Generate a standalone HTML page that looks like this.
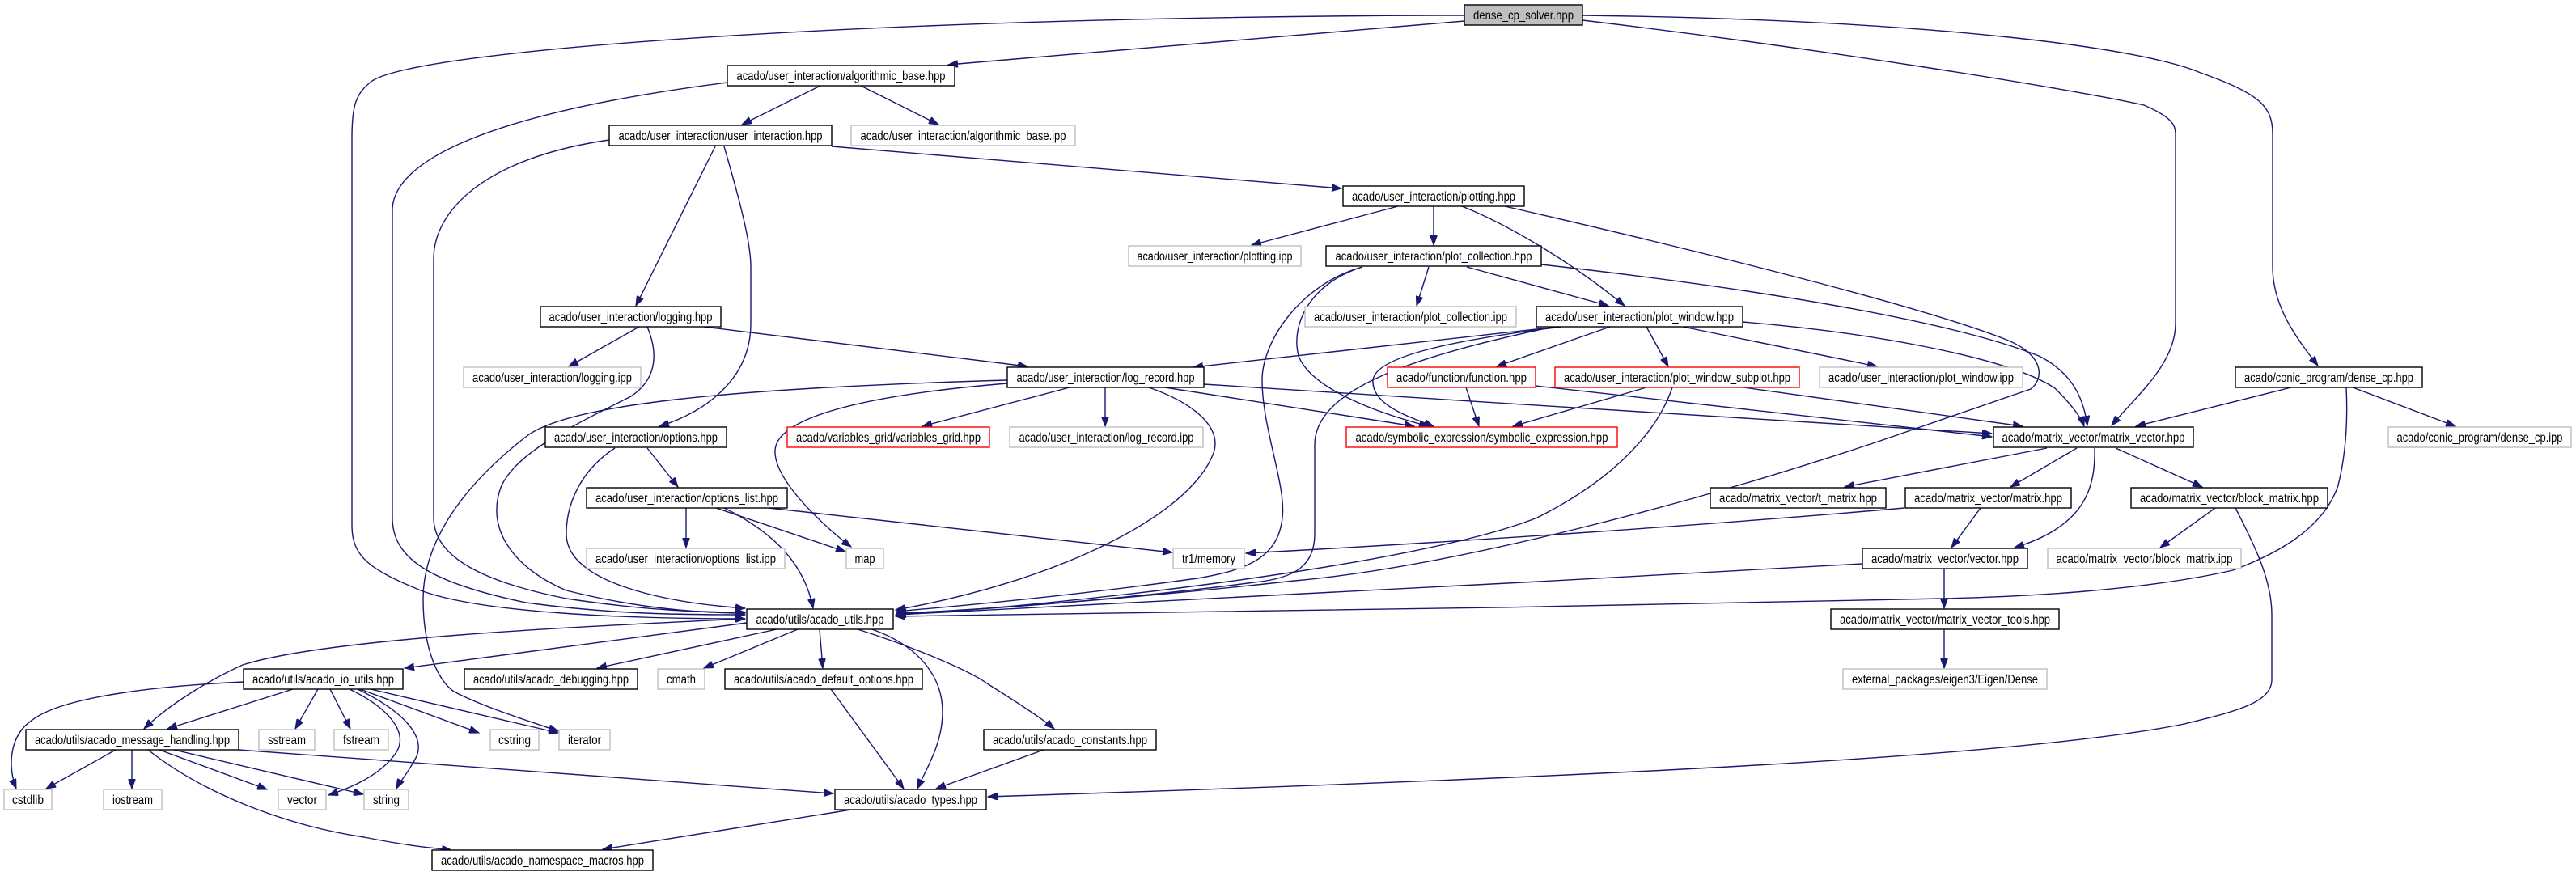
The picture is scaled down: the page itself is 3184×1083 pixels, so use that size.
<!DOCTYPE html>
<html><head><meta charset="utf-8"><style>
html,body{margin:0;padding:0;background:#fff;}
svg{display:block;}
text{font-family:"Liberation Sans",sans-serif;font-size:15.5px;fill:#000;}
.e{fill:none;stroke:#191970;stroke-width:1.4;marker-end:url(#a);}
.n{fill:#fff;stroke:#000;stroke-width:1.4;}
.g{fill:#fff;stroke:#bfbfbf;stroke-width:1.4;}
.r{fill:#fff;stroke:#ff0000;stroke-width:1.4;}
</style></head><body>
<svg width="3184" height="1083" viewBox="0 0 3184 1083" xmlns="http://www.w3.org/2000/svg">
<defs><marker id="a" markerUnits="userSpaceOnUse" markerWidth="13" markerHeight="9" refX="12" refY="4.5" orient="auto"><path d="M0,0 L12,4.5 L0,9 z" fill="#191970" stroke="#191970"/></marker></defs>
<path class="e" d="M1810,26 L1172,80"/>
<path class="e" d="M1810,19 C1100,20 520,60 460,100 C440,115 435,130 435,170 L435,650 C435,690 460,705 520,730 C600,760 800,765 921,765"/>
<path class="e" d="M1956,19 C2400,25 2650,60 2720,90 C2790,115 2809,130 2809,165 L2809,330 C2809,380 2840,420 2865,452"/>
<path class="e" d="M1956,25 C2250,60 2560,110 2650,130 C2685,145 2689,155 2689,165 L2689,400 C2689,450 2640,490 2610,526"/>
<path class="e" d="M1014,106 L917,154"/>
<path class="e" d="M1064,106 L1160,154"/>
<path class="e" d="M899,102 C600,140 485,200 485,260 L485,640 C485,690 530,720 650,745 C760,760 850,760 921,760"/>
<path class="e" d="M753,173 C600,195 536,260 536,320 L536,640 C536,690 600,720 700,740 C800,755 870,757 921,757"/>
<path class="e" d="M884,181 L786,378"/>
<path class="e" d="M895,181 C915,250 928,300 928,330 L928,400 C928,470 870,510 815,527"/>
<path class="e" d="M1028,181 L1658,233"/>
<path class="e" d="M1728,255 L1547,303"/>
<path class="e" d="M1772,255 L1772,303"/>
<path class="e" d="M1807,255 C1870,280 1950,330 2008,378"/>
<path class="e" d="M1860,255 C2100,310 2380,380 2480,420 C2530,440 2525,470 2510,481 L2324,545 C2100,620 1800,700 1600,718 C1400,740 1200,755 1108,758"/>
<path class="e" d="M1766,330 L1751,378"/>
<path class="e" d="M1813,330 L1988,378"/>
<path class="e" d="M1905,327 C2200,360 2420,400 2520,440 C2560,460 2575,490 2580,526"/>
<path class="e" d="M1684,330 C1620,350 1595,400 1605,440 C1620,480 1700,510 1766,527"/>
<path class="e" d="M1684,330 C1610,350 1560,420 1560,470 C1560,530 1590,600 1585,640 C1580,690 1540,705 1480,715 C1300,740 1150,752 1108,756"/>
<path class="e" d="M1926,404 L1475,454"/>
<path class="e" d="M1990,404 L1850,453"/>
<path class="e" d="M2035,404 L2062,453"/>
<path class="e" d="M2080,404 L2320,453"/>
<path class="e" d="M2154,398 C2300,410 2480,440 2540,480 C2560,500 2572,515 2576,527"/>
<path class="e" d="M1930,404 C1800,420 1700,440 1697,470 C1695,500 1740,515 1772,527"/>
<path class="e" d="M1920,404 C1750,440 1625,480 1625,550 L1625,660 C1625,700 1600,715 1550,720 C1400,740 1200,755 1108,759"/>
<path class="e" d="M790,404 L703,453"/>
<path class="e" d="M870,404 L1270,453"/>
<path class="e" d="M800,404 C815,440 810,470 780,490 C700,530 640,560 620,600 C600,650 630,700 700,730 C800,755 880,758 921,758"/>
<path class="e" d="M1322,479 L1140,527"/>
<path class="e" d="M1366,479 L1366,527"/>
<path class="e" d="M1440,479 L1748,527"/>
<path class="e" d="M1488,475 C1800,495 2200,520 2462,536"/>
<path class="e" d="M1245,474 C1050,490 955,520 958,560 C960,600 1030,660 1052,676"/>
<path class="e" d="M1420,479 C1480,500 1510,530 1500,560 C1470,640 1300,720 1107,754"/>
<path class="e" d="M1245,470 C900,480 700,500 650,540 C560,610 523,680 523,740 C523,800 540,840 561,855 C600,875 650,890 690,904"/>
<path class="e" d="M1812,479 L1828,527"/>
<path class="e" d="M1898,477 L2462,540"/>
<path class="e" d="M2035,479 L1870,527"/>
<path class="e" d="M2155,479 L2500,527"/>
<path class="e" d="M2067,479 C2050,530 2000,590 1900,640 C1750,700 1300,750 1108,760"/>
<path class="e" d="M2832,479 L2640,527"/>
<path class="e" d="M2908,479 L3035,527"/>
<path class="e" d="M2900,479 C2902,520 2900,560 2890,600 C2870,660 2800,690 2760,705 C2650,730 2500,738 2400,740 C2000,750 1400,758 1107,762"/>
<path class="e" d="M2530,554 L2280,602"/>
<path class="e" d="M2567,554 L2485,602"/>
<path class="e" d="M2615,554 L2722,602"/>
<path class="e" d="M2589,554 C2590,600 2580,650 2490,677"/>
<path class="e" d="M2354,628 C2100,650 1800,670 1540,684"/>
<path class="e" d="M2448,628 L2412,677"/>
<path class="e" d="M2738,628 L2670,677"/>
<path class="e" d="M2763,628 C2790,680 2808,720 2808,760 L2808,840 C2808,870 2760,880 2700,895 C2500,935 2000,960 1221,985"/>
<path class="e" d="M2302,697 C1900,720 1400,745 1107,760"/>
<path class="e" d="M2403,703 L2403,752"/>
<path class="e" d="M2403,778 L2403,826"/>
<path class="e" d="M800,554 L838,602"/>
<path class="e" d="M760,554 C720,580 700,620 700,660 C700,720 820,745 921,752"/>
<path class="e" d="M848,628 L848,677"/>
<path class="e" d="M885,628 L1045,682"/>
<path class="e" d="M950,628 L1449,683"/>
<path class="e" d="M895,628 C960,660 995,700 1005,752"/>
<path class="e" d="M923,770 L500,826"/>
<path class="e" d="M960,778 L738,826"/>
<path class="e" d="M921,765 C700,775 400,790 300,822 C260,840 210,870 178,901"/>
<path class="e" d="M986,778 L870,826"/>
<path class="e" d="M1013,778 L1017,826"/>
<path class="e" d="M1060,778 C1130,800 1200,830 1220,845 C1260,870 1290,890 1303,901"/>
<path class="e" d="M1078,778 C1140,800 1165,840 1165,880 C1165,920 1145,950 1134,975"/>
<path class="e" d="M301,843 C200,848 80,860 40,890 C10,910 10,950 20,975"/>
<path class="e" d="M362,852 L207,901"/>
<path class="e" d="M393,852 L365,901"/>
<path class="e" d="M408,852 L433,901"/>
<path class="e" d="M432,852 C480,875 505,905 490,930 C470,960 430,975 406,983"/>
<path class="e" d="M442,852 C500,880 525,910 515,935 C505,955 495,965 490,975"/>
<path class="e" d="M445,852 L592,906"/>
<path class="e" d="M458,852 L690,906"/>
<path class="e" d="M143,927 L57,975"/>
<path class="e" d="M163,927 L163,975"/>
<path class="e" d="M197,927 L330,976"/>
<path class="e" d="M215,927 L449,982"/>
<path class="e" d="M183,927 C250,980 350,1020 450,1035 C500,1045 530,1048 558,1051"/>
<path class="e" d="M295,927 L1030,981"/>
<path class="e" d="M1027,852 L1117,975"/>
<path class="e" d="M1290,927 L1157,975"/>
<path class="e" d="M1052,1001 L745,1050"/>
<rect x="1810" y="6" width="146" height="25" fill="#bfbfbf" stroke="#000" stroke-width="1.4"/><text x="1883" y="24" text-anchor="middle" textLength="124" lengthAdjust="spacingAndGlyphs">dense_cp_solver.hpp</text>
<rect class="n" x="899" y="81" width="281" height="25"/><text x="1039.5" y="99" text-anchor="middle" textLength="258" lengthAdjust="spacingAndGlyphs">acado/user_interaction/algorithmic_base.hpp</text>
<rect class="n" x="753" y="155" width="275" height="25"/><text x="890.5" y="173" text-anchor="middle" textLength="252" lengthAdjust="spacingAndGlyphs">acado/user_interaction/user_interaction.hpp</text>
<rect class="g" x="1052" y="155" width="277" height="25"/><text x="1190.5" y="173" text-anchor="middle" textLength="254" lengthAdjust="spacingAndGlyphs">acado/user_interaction/algorithmic_base.ipp</text>
<rect class="n" x="1660" y="230" width="224" height="25"/><text x="1772" y="248" text-anchor="middle" textLength="202" lengthAdjust="spacingAndGlyphs">acado/user_interaction/plotting.hpp</text>
<rect class="g" x="1395" y="304" width="213" height="25"/><text x="1501.5" y="322" text-anchor="middle" textLength="192" lengthAdjust="spacingAndGlyphs">acado/user_interaction/plotting.ipp</text>
<rect class="n" x="1639" y="304" width="266" height="25"/><text x="1772" y="322" text-anchor="middle" textLength="243" lengthAdjust="spacingAndGlyphs">acado/user_interaction/plot_collection.hpp</text>
<rect class="n" x="668" y="379" width="223" height="25"/><text x="779.5" y="397" text-anchor="middle" textLength="202" lengthAdjust="spacingAndGlyphs">acado/user_interaction/logging.hpp</text>
<rect class="g" x="1613" y="379" width="261" height="25"/><text x="1743.5" y="397" text-anchor="middle" textLength="239" lengthAdjust="spacingAndGlyphs">acado/user_interaction/plot_collection.ipp</text>
<rect class="n" x="1899" y="379" width="255" height="25"/><text x="2026.5" y="397" text-anchor="middle" textLength="233" lengthAdjust="spacingAndGlyphs">acado/user_interaction/plot_window.hpp</text>
<rect class="g" x="573" y="454" width="219" height="25"/><text x="682.5" y="472" text-anchor="middle" textLength="197" lengthAdjust="spacingAndGlyphs">acado/user_interaction/logging.ipp</text>
<rect class="n" x="1245" y="454" width="243" height="25"/><text x="1366.5" y="472" text-anchor="middle" textLength="220" lengthAdjust="spacingAndGlyphs">acado/user_interaction/log_record.hpp</text>
<rect class="r" x="1715" y="454" width="183" height="25"/><text x="1806.5" y="472" text-anchor="middle" textLength="161" lengthAdjust="spacingAndGlyphs">acado/function/function.hpp</text>
<rect class="r" x="1922" y="454" width="302" height="25"/><text x="2073" y="472" text-anchor="middle" textLength="280" lengthAdjust="spacingAndGlyphs">acado/user_interaction/plot_window_subplot.hpp</text>
<rect class="g" x="2249" y="454" width="251" height="25"/><text x="2374.5" y="472" text-anchor="middle" textLength="229" lengthAdjust="spacingAndGlyphs">acado/user_interaction/plot_window.ipp</text>
<rect class="n" x="2763" y="454" width="231" height="25"/><text x="2878.5" y="472" text-anchor="middle" textLength="209" lengthAdjust="spacingAndGlyphs">acado/conic_program/dense_cp.hpp</text>
<rect class="n" x="674" y="528" width="224" height="25"/><text x="786" y="546" text-anchor="middle" textLength="202" lengthAdjust="spacingAndGlyphs">acado/user_interaction/options.hpp</text>
<rect class="r" x="973" y="528" width="250" height="25"/><text x="1098" y="546" text-anchor="middle" textLength="228" lengthAdjust="spacingAndGlyphs">acado/variables_grid/variables_grid.hpp</text>
<rect class="g" x="1248" y="528" width="239" height="25"/><text x="1367.5" y="546" text-anchor="middle" textLength="216" lengthAdjust="spacingAndGlyphs">acado/user_interaction/log_record.ipp</text>
<rect class="r" x="1664" y="528" width="335" height="25"/><text x="1831.5" y="546" text-anchor="middle" textLength="312" lengthAdjust="spacingAndGlyphs">acado/symbolic_expression/symbolic_expression.hpp</text>
<rect class="n" x="2464" y="528" width="247" height="25"/><text x="2587.5" y="546" text-anchor="middle" textLength="226" lengthAdjust="spacingAndGlyphs">acado/matrix_vector/matrix_vector.hpp</text>
<rect class="g" x="2952" y="528" width="226" height="25"/><text x="3065" y="546" text-anchor="middle" textLength="205" lengthAdjust="spacingAndGlyphs">acado/conic_program/dense_cp.ipp</text>
<rect class="n" x="725" y="603" width="248" height="25"/><text x="849" y="621" text-anchor="middle" textLength="226" lengthAdjust="spacingAndGlyphs">acado/user_interaction/options_list.hpp</text>
<rect class="n" x="2114" y="603" width="217" height="25"/><text x="2222.5" y="621" text-anchor="middle" textLength="195" lengthAdjust="spacingAndGlyphs">acado/matrix_vector/t_matrix.hpp</text>
<rect class="n" x="2355" y="603" width="205" height="25"/><text x="2457.5" y="621" text-anchor="middle" textLength="183" lengthAdjust="spacingAndGlyphs">acado/matrix_vector/matrix.hpp</text>
<rect class="n" x="2634" y="603" width="243" height="25"/><text x="2755.5" y="621" text-anchor="middle" textLength="221" lengthAdjust="spacingAndGlyphs">acado/matrix_vector/block_matrix.hpp</text>
<rect class="g" x="725" y="678" width="245" height="25"/><text x="847.5" y="696" text-anchor="middle" textLength="223" lengthAdjust="spacingAndGlyphs">acado/user_interaction/options_list.ipp</text>
<rect class="g" x="1046" y="678" width="46" height="25"/><text x="1069" y="696" text-anchor="middle" textLength="25" lengthAdjust="spacingAndGlyphs">map</text>
<rect class="g" x="1450" y="678" width="88" height="25"/><text x="1494" y="696" text-anchor="middle" textLength="66" lengthAdjust="spacingAndGlyphs">tr1/memory</text>
<rect class="n" x="2302" y="678" width="204" height="25"/><text x="2404" y="696" text-anchor="middle" textLength="182" lengthAdjust="spacingAndGlyphs">acado/matrix_vector/vector.hpp</text>
<rect class="g" x="2531" y="678" width="239" height="25"/><text x="2650.5" y="696" text-anchor="middle" textLength="218" lengthAdjust="spacingAndGlyphs">acado/matrix_vector/block_matrix.ipp</text>
<rect class="n" x="923" y="753" width="181" height="25"/><text x="1013.5" y="771" text-anchor="middle" textLength="158" lengthAdjust="spacingAndGlyphs">acado/utils/acado_utils.hpp</text>
<rect class="n" x="2263" y="753" width="282" height="25"/><text x="2404" y="771" text-anchor="middle" textLength="260" lengthAdjust="spacingAndGlyphs">acado/matrix_vector/matrix_vector_tools.hpp</text>
<rect class="n" x="301" y="827" width="197" height="25"/><text x="399.5" y="845" text-anchor="middle" textLength="175" lengthAdjust="spacingAndGlyphs">acado/utils/acado_io_utils.hpp</text>
<rect class="n" x="574" y="827" width="214" height="25"/><text x="681" y="845" text-anchor="middle" textLength="192" lengthAdjust="spacingAndGlyphs">acado/utils/acado_debugging.hpp</text>
<rect class="g" x="813" y="827" width="58" height="25"/><text x="842" y="845" text-anchor="middle" textLength="36" lengthAdjust="spacingAndGlyphs">cmath</text>
<rect class="n" x="896" y="827" width="244" height="25"/><text x="1018" y="845" text-anchor="middle" textLength="222" lengthAdjust="spacingAndGlyphs">acado/utils/acado_default_options.hpp</text>
<rect class="g" x="2278" y="827" width="252" height="25"/><text x="2404" y="845" text-anchor="middle" textLength="230" lengthAdjust="spacingAndGlyphs">external_packages/eigen3/Eigen/Dense</text>
<rect class="n" x="32" y="902" width="263" height="25"/><text x="163.5" y="920" text-anchor="middle" textLength="241" lengthAdjust="spacingAndGlyphs">acado/utils/acado_message_handling.hpp</text>
<rect class="g" x="320" y="902" width="69" height="25"/><text x="354.5" y="920" text-anchor="middle" textLength="47" lengthAdjust="spacingAndGlyphs">sstream</text>
<rect class="g" x="413" y="902" width="67" height="25"/><text x="446.5" y="920" text-anchor="middle" textLength="45" lengthAdjust="spacingAndGlyphs">fstream</text>
<rect class="g" x="606" y="902" width="60" height="25"/><text x="636" y="920" text-anchor="middle" textLength="40" lengthAdjust="spacingAndGlyphs">cstring</text>
<rect class="g" x="691" y="902" width="63" height="25"/><text x="722.5" y="920" text-anchor="middle" textLength="41" lengthAdjust="spacingAndGlyphs">iterator</text>
<rect class="n" x="1216" y="902" width="213" height="25"/><text x="1322.5" y="920" text-anchor="middle" textLength="191" lengthAdjust="spacingAndGlyphs">acado/utils/acado_constants.hpp</text>
<rect class="g" x="5" y="976" width="59" height="25"/><text x="34.5" y="994" text-anchor="middle" textLength="39" lengthAdjust="spacingAndGlyphs">cstdlib</text>
<rect class="g" x="128" y="976" width="72" height="25"/><text x="164" y="994" text-anchor="middle" textLength="50" lengthAdjust="spacingAndGlyphs">iostream</text>
<rect class="g" x="344" y="976" width="59" height="25"/><text x="373.5" y="994" text-anchor="middle" textLength="37" lengthAdjust="spacingAndGlyphs">vector</text>
<rect class="g" x="450" y="976" width="55" height="25"/><text x="477.5" y="994" text-anchor="middle" textLength="33" lengthAdjust="spacingAndGlyphs">string</text>
<rect class="n" x="1032" y="976" width="187" height="25"/><text x="1125.5" y="994" text-anchor="middle" textLength="165" lengthAdjust="spacingAndGlyphs">acado/utils/acado_types.hpp</text>
<rect class="n" x="534" y="1051" width="273" height="25"/><text x="670.5" y="1069" text-anchor="middle" textLength="251" lengthAdjust="spacingAndGlyphs">acado/utils/acado_namespace_macros.hpp</text>
</svg>
</body></html>
